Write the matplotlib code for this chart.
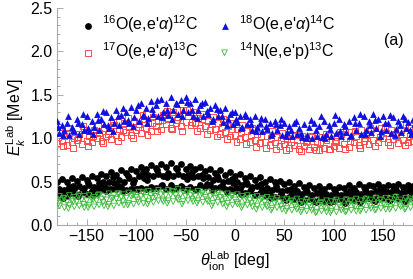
import numpy as np
import matplotlib
matplotlib.use("Agg")
import matplotlib.pyplot as plt
from matplotlib.ticker import MultipleLocator

plt.rcParams['font.family'] = ['Liberation Sans', 'DejaVu Sans']
plt.rcParams['mathtext.fontset'] = 'custom'
plt.rcParams['mathtext.rm'] = 'Liberation Sans'
plt.rcParams['mathtext.it'] = 'Liberation Sans:italic'
plt.rcParams['mathtext.bf'] = 'Liberation Sans:bold'

# angle grids (deg)
theta = np.arange(-180, 181, 5)
theta_half = theta + 2.5
theta_c = theta + 1.5

# 18O(e,e'alpha)14C
o18_hi = [1.20, 1.15, 1.18, 1.13, 1.22, 1.16, 1.25, 1.20, 1.28, 1.22,
          1.30, 1.24, 1.33, 1.27, 1.30, 1.36, 1.32, 1.40, 1.35, 1.43,
          1.38, 1.45, 1.40, 1.47, 1.41, 1.44, 1.48, 1.40, 1.45, 1.38,
          1.42, 1.35, 1.38, 1.32, 1.35, 1.28, 1.30, 1.25, 1.28, 1.22,
          1.25, 1.18, 1.22, 1.17, 1.20, 1.15, 1.18, 1.14, 1.17, 1.12,
          1.16, 1.13, 1.18, 1.14, 1.20, 1.15, 1.18, 1.22, 1.16, 1.20,
          1.24, 1.18, 1.26, 1.20, 1.28, 1.22, 1.25, 1.18, 1.24, 1.20,
          1.26, 1.19, 1.22]
o18_lo = [1.06, 1.10, 1.04, 1.08, 1.05, 1.10, 1.08, 1.13, 1.10, 1.16,
          1.12, 1.18, 1.15, 1.20, 1.17, 1.24, 1.20, 1.26, 1.23, 1.28,
          1.25, 1.30, 1.27, 1.32, 1.28, 1.33, 1.30, 1.26, 1.32, 1.25,
          1.28, 1.22, 1.26, 1.19, 1.22, 1.16, 1.19, 1.13, 1.16, 1.10,
          1.13, 1.08, 1.11, 1.06, 1.09, 1.04, 1.07, 1.02, 1.05, 1.01,
          1.04, 1.00, 1.03, 1.01, 1.05, 1.02, 1.06, 1.03, 1.07, 1.04,
          1.09, 1.05, 1.10, 1.07, 1.12, 1.08, 1.10, 1.06, 1.11, 1.07,
          1.12, 1.05, 1.09]
o18_x = [1.13, 1.04, 1.25, 1.09, 1.17, 1.28, 1.12, 1.05, 1.21, 1.31,
         1.15, 1.08, 1.26, 1.35, 1.21, 1.14, 1.38, 1.27, 1.18, 1.34,
         1.44, 1.24, 1.32, 1.22, 1.39, 1.26, 1.42, 1.33, 1.23, 1.40,
         1.31, 1.20, 1.34, 1.25, 1.15, 1.30, 1.22, 1.12, 1.26, 1.16,
         1.08, 1.23, 1.14, 1.04, 1.16, 1.22, 1.02, 1.10, 1.20, 1.06,
         1.00, 1.21, 1.09, 1.25, 1.00, 1.11, 1.27, 1.08, 1.14, 1.02,
         1.17, 1.28, 1.05, 1.15, 1.21, 1.03, 1.18, 1.27, 1.04, 1.15,
         1.22, 1.10, 1.16]

# 17O(e,e'alpha)13C
o17_hi = [1.08, 1.02, 1.06, 1.00, 1.05, 1.09, 1.03, 1.10, 1.06, 1.12,
          1.08, 1.15, 1.10, 1.17, 1.13, 1.20, 1.16, 1.22, 1.18, 1.25,
          1.20, 1.27, 1.22, 1.30, 1.24, 1.32, 1.26, 1.30, 1.23, 1.28,
          1.20, 1.25, 1.17, 1.22, 1.14, 1.18, 1.10, 1.15, 1.08, 1.12,
          1.05, 1.10, 1.03, 1.08, 1.01, 1.06, 0.99, 1.04, 0.98, 1.03,
          0.97, 1.02, 0.96, 1.01, 0.98, 1.03, 0.97, 1.05, 1.00, 1.07,
          1.02, 1.09, 1.04, 1.10, 1.05, 1.12, 1.06, 1.10, 1.03, 1.09,
          1.05, 1.14, 1.08]
o17_lo = [0.94, 0.97, 0.92, 0.96, 0.98, 0.93, 0.97, 0.95, 1.00, 0.97,
          1.02, 0.99, 1.04, 1.01, 1.07, 1.04, 1.09, 1.06, 1.12, 1.08,
          1.14, 1.10, 1.16, 1.12, 1.18, 1.14, 1.19, 1.15, 1.17, 1.12,
          1.14, 1.09, 1.11, 1.05, 1.07, 1.02, 1.04, 0.99, 1.01, 0.96,
          0.98, 0.94, 0.96, 0.92, 0.95, 0.91, 0.93, 0.89, 0.92, 0.88,
          0.91, 0.87, 0.90, 0.86, 0.89, 0.88, 0.91, 0.89, 0.93, 0.90,
          0.95, 0.92, 0.97, 0.93, 0.98, 0.95, 1.00, 0.96, 0.99, 0.94,
          0.98, 0.95, 0.97]
o17_x = [1.01, 0.91, 1.12, 0.89, 1.01, 1.14, 0.91, 1.03, 1.15, 0.94,
         1.05, 1.19, 0.97, 1.09, 1.23, 1.00, 1.13, 1.27, 1.04, 1.17,
         1.08, 1.21, 1.31, 1.10, 1.21, 1.08, 1.33, 1.19, 1.08, 1.22,
         1.05, 1.16, 1.02, 1.13, 0.99, 1.10, 0.96, 1.07, 0.93, 1.04,
         0.90, 1.02, 0.89, 1.00, 0.87, 0.98, 0.86, 0.96, 1.04, 0.85,
         0.95, 1.03, 0.86, 0.94, 1.05, 0.87, 0.95, 1.07, 0.88, 0.97,
         1.08, 0.89, 1.00, 1.12, 0.91, 1.02, 1.13, 0.92, 1.05, 1.16,
         0.92, 1.03, 1.10]

# 16O(e,e'alpha)12C
o16_hi = [0.50, 0.53, 0.49, 0.54, 0.51, 0.55, 0.52, 0.57, 0.54, 0.59,
          0.56, 0.61, 0.58, 0.63, 0.60, 0.65, 0.62, 0.67, 0.64, 0.69,
          0.66, 0.70, 0.67, 0.71, 0.66, 0.70, 0.65, 0.68, 0.64, 0.67,
          0.62, 0.65, 0.60, 0.63, 0.58, 0.61, 0.56, 0.59, 0.54, 0.57,
          0.52, 0.55, 0.50, 0.53, 0.49, 0.51, 0.47, 0.49, 0.45, 0.48,
          0.44, 0.46, 0.43, 0.45, 0.42, 0.45, 0.42, 0.44, 0.43, 0.46,
          0.43, 0.47, 0.44, 0.46, 0.45, 0.47, 0.44, 0.46, 0.45, 0.47,
          0.44, 0.46, 0.45]
o16_mid = [0.42, 0.40, 0.44, 0.41, 0.45, 0.43, 0.46, 0.44, 0.48, 0.46,
           0.50, 0.48, 0.52, 0.50, 0.54, 0.52, 0.56, 0.54, 0.58, 0.56,
           0.59, 0.57, 0.60, 0.57, 0.59, 0.56, 0.58, 0.55, 0.57, 0.54,
           0.55, 0.52, 0.53, 0.50, 0.51, 0.48, 0.49, 0.46, 0.47, 0.44,
           0.45, 0.42, 0.43, 0.40, 0.42, 0.39, 0.40, 0.37, 0.39, 0.36,
           0.38, 0.35, 0.37, 0.34, 0.36, 0.34, 0.36, 0.35, 0.37, 0.35,
           0.38, 0.36, 0.38, 0.37, 0.39, 0.37, 0.39, 0.38, 0.40, 0.37,
           0.39, 0.38, 0.40]
o16_lo = [0.34, 0.36, 0.33, 0.37, 0.35, 0.38, 0.36, 0.39, 0.37, 0.41,
          0.39, 0.42, 0.41, 0.44, 0.40, 0.42, 0.41, 0.43, 0.42, 0.44,
          0.43, 0.45, 0.42, 0.46, 0.43, 0.45, 0.42, 0.44, 0.41, 0.46,
          0.44, 0.46, 0.43, 0.44, 0.41, 0.42, 0.39, 0.41, 0.37, 0.39,
          0.35, 0.37, 0.34, 0.35, 0.32, 0.33, 0.31, 0.32, 0.30, 0.31,
          0.29, 0.30, 0.28, 0.29, 0.28, 0.29, 0.28, 0.30, 0.29, 0.30,
          0.29, 0.31, 0.30, 0.31, 0.30, 0.32, 0.31, 0.30, 0.32, 0.31,
          0.33, 0.31, 0.32]
o16_x = [0.38, 0.31, 0.40, 0.45, 0.33, 0.41, 0.48, 0.35, 0.43, 0.50,
         0.41, 0.55, 0.45, 0.39, 0.57, 0.48, 0.41, 0.61, 0.52, 0.43,
         0.63, 0.46, 0.55, 0.42, 0.64, 0.44, 0.53, 0.61, 0.42, 0.58,
         0.47, 0.40, 0.57, 0.45, 0.38, 0.53, 0.43, 0.36, 0.50, 0.41,
         0.34, 0.47, 0.38, 0.31, 0.45, 0.36, 0.29, 0.42, 0.34, 0.27,
         0.40, 0.33, 0.26, 0.39, 0.31, 0.26, 0.40, 0.32, 0.25, 0.39,
         0.33, 0.27, 0.41, 0.34, 0.28, 0.42, 0.35, 0.29, 0.43, 0.34,
         0.28, 0.41, 0.35]

# 14N(e,e'p)13C
n14_hi = [0.33, 0.31, 0.34, 0.32, 0.35, 0.33, 0.34, 0.32, 0.35, 0.33,
          0.36, 0.34, 0.36, 0.35, 0.37, 0.35, 0.38, 0.36, 0.39, 0.37,
          0.40, 0.38, 0.40, 0.38, 0.41, 0.38, 0.40, 0.37, 0.39, 0.37,
          0.38, 0.36, 0.37, 0.35, 0.36, 0.34, 0.35, 0.33, 0.34, 0.32,
          0.33, 0.31, 0.32, 0.30, 0.31, 0.29, 0.30, 0.28, 0.30, 0.27,
          0.29, 0.27, 0.28, 0.26, 0.28, 0.27, 0.29, 0.27, 0.29, 0.28,
          0.30, 0.28, 0.30, 0.29, 0.31, 0.29, 0.31, 0.30, 0.32, 0.29,
          0.31, 0.30, 0.31]
n14_mid = [0.27, 0.29, 0.26, 0.28, 0.27, 0.29, 0.28, 0.30, 0.28, 0.30,
           0.29, 0.31, 0.30, 0.32, 0.31, 0.33, 0.32, 0.33, 0.32, 0.34,
           0.33, 0.35, 0.34, 0.35, 0.34, 0.35, 0.33, 0.34, 0.33, 0.34,
           0.32, 0.33, 0.31, 0.32, 0.30, 0.31, 0.29, 0.30, 0.28, 0.29,
           0.27, 0.28, 0.26, 0.27, 0.25, 0.26, 0.24, 0.25, 0.23, 0.24,
           0.22, 0.23, 0.22, 0.23, 0.21, 0.22, 0.22, 0.23, 0.22, 0.24,
           0.23, 0.24, 0.23, 0.25, 0.24, 0.25, 0.24, 0.26, 0.25, 0.26,
           0.25, 0.27, 0.26]
n14_lo = [0.22, 0.20, 0.23, 0.21, 0.22, 0.20, 0.23, 0.21, 0.23, 0.22,
          0.24, 0.22, 0.25, 0.23, 0.25, 0.24, 0.26, 0.25, 0.27, 0.26,
          0.28, 0.27, 0.28, 0.27, 0.29, 0.27, 0.28, 0.27, 0.28, 0.26,
          0.27, 0.25, 0.26, 0.24, 0.25, 0.23, 0.24, 0.22, 0.23, 0.21,
          0.22, 0.20, 0.21, 0.19, 0.20, 0.18, 0.19, 0.17, 0.18, 0.17,
          0.16, 0.17, 0.15, 0.16, 0.15, 0.16, 0.15, 0.17, 0.16, 0.17,
          0.16, 0.18, 0.17, 0.19, 0.18, 0.19, 0.18, 0.20, 0.19, 0.21,
          0.19, 0.20, 0.21]
n14_x = [0.25, 0.31, 0.19, 0.27, 0.33, 0.24, 0.20, 0.29, 0.34, 0.26,
         0.21, 0.31, 0.36, 0.27, 0.23, 0.34, 0.29, 0.38, 0.24, 0.31,
         0.37, 0.29, 0.25, 0.39, 0.31, 0.24, 0.37, 0.30, 0.25, 0.36,
         0.29, 0.22, 0.34, 0.28, 0.21, 0.33, 0.26, 0.20, 0.31, 0.25,
         0.18, 0.30, 0.23, 0.17, 0.28, 0.22, 0.16, 0.27, 0.21, 0.15,
         0.26, 0.20, 0.14, 0.25, 0.19, 0.14, 0.26, 0.20, 0.15, 0.27,
         0.21, 0.16, 0.28, 0.22, 0.17, 0.29, 0.23, 0.18, 0.29, 0.23,
         0.18, 0.28, 0.24]

labels = [r"$^{16}$O(e,e'$\alpha$)$^{12}$C", r"$^{17}$O(e,e'$\alpha$)$^{13}$C",
          r"$^{18}$O(e,e'$\alpha$)$^{14}$C", r"$^{14}$N(e,e'p)$^{13}$C"]

fig = plt.figure(figsize=(4.14, 2.79), dpi=100)
ax = fig.add_axes([57/414, 54/279, 356/414, 217/279])

# black circles
for i, (xs, ys) in enumerate([(theta, o16_hi), (theta_half, o16_mid),
                              (theta, o16_lo), (theta_c, o16_x)]):
    ax.scatter(xs, ys, s=24, marker='o', color='black', linewidths=0,
               label=labels[0] if i == 0 else None, zorder=2)
# green down triangles
for i, (xs, ys) in enumerate([(theta_half, n14_hi), (theta, n14_mid),
                              (theta_half, n14_lo), (theta_c, n14_x)]):
    ax.scatter(xs, ys, s=16, marker='v', facecolors='none', edgecolors='#3dbb3d',
               linewidths=0.6, label=labels[3] if i == 0 else None, zorder=3)
# red open squares
for i, (xs, ys) in enumerate([(theta_half, o17_hi), (theta, o17_lo), (theta_c, o17_x)]):
    ax.scatter(xs, ys, s=18, marker='s', facecolors='none', edgecolors='#ff4a4a',
               linewidths=0.7, label=labels[1] if i == 0 else None, zorder=2)
# blue triangles
for i, (xs, ys) in enumerate([(theta, o18_hi), (theta_half, o18_lo), (theta_c, o18_x)]):
    ax.scatter(xs, ys, s=24, marker='^', color='#1010e0', linewidths=0,
               label=labels[2] if i == 0 else None, zorder=3)

ax.set_xlim(-180, 180)
ax.set_ylim(0, 2.5)
ax.xaxis.set_major_locator(MultipleLocator(50))
ax.xaxis.set_minor_locator(MultipleLocator(10))
ax.yaxis.set_major_locator(MultipleLocator(0.5))
ax.yaxis.set_minor_locator(MultipleLocator(0.1))
ax.yaxis.set_major_formatter(matplotlib.ticker.FormatStrFormatter('%.1f'))
ax.xaxis.set_major_formatter(matplotlib.ticker.FuncFormatter(
    lambda v, p: ('\u2212' + str(int(abs(v)))) if v < 0 else str(int(v))))

for s in ['top', 'right']:
    ax.spines[s].set_visible(False)
for s in ['left', 'bottom']:
    ax.spines[s].set_color('#aaaaaa')
    ax.spines[s].set_linewidth(0.8)
ax.tick_params(which='both', direction='in', color='#aaaaaa', labelsize=11.5,
               labelcolor='black', width=0.7)
ax.tick_params(which='major', length=4, pad=3)
ax.tick_params(which='minor', length=2)

ax.set_xlabel(r"$\theta_{\rm ion}^{\rm Lab}$ [deg]", fontsize=11.5, labelpad=4)
ax.set_ylabel(r"$E_k^{\rm Lab}$ [MeV]", fontsize=11.5, labelpad=2)

handles, labs = ax.get_legend_handles_labels()
order = [labs.index(l) for l in labels]
ax.legend([handles[i] for i in order], [labs[i] for i in order], ncol=2,
          loc='upper left', bbox_to_anchor=(0.02, 1.04), frameon=False,
          fontsize=11.5, handletextpad=0.3, columnspacing=1.0,
          labelspacing=0.3, handlelength=1.2, scatterpoints=1)

ax.text(0.975, 0.85, "(a)", transform=ax.transAxes, fontsize=11.5,
        ha='right', va='center')

fig.savefig("out.png", dpi=100)
